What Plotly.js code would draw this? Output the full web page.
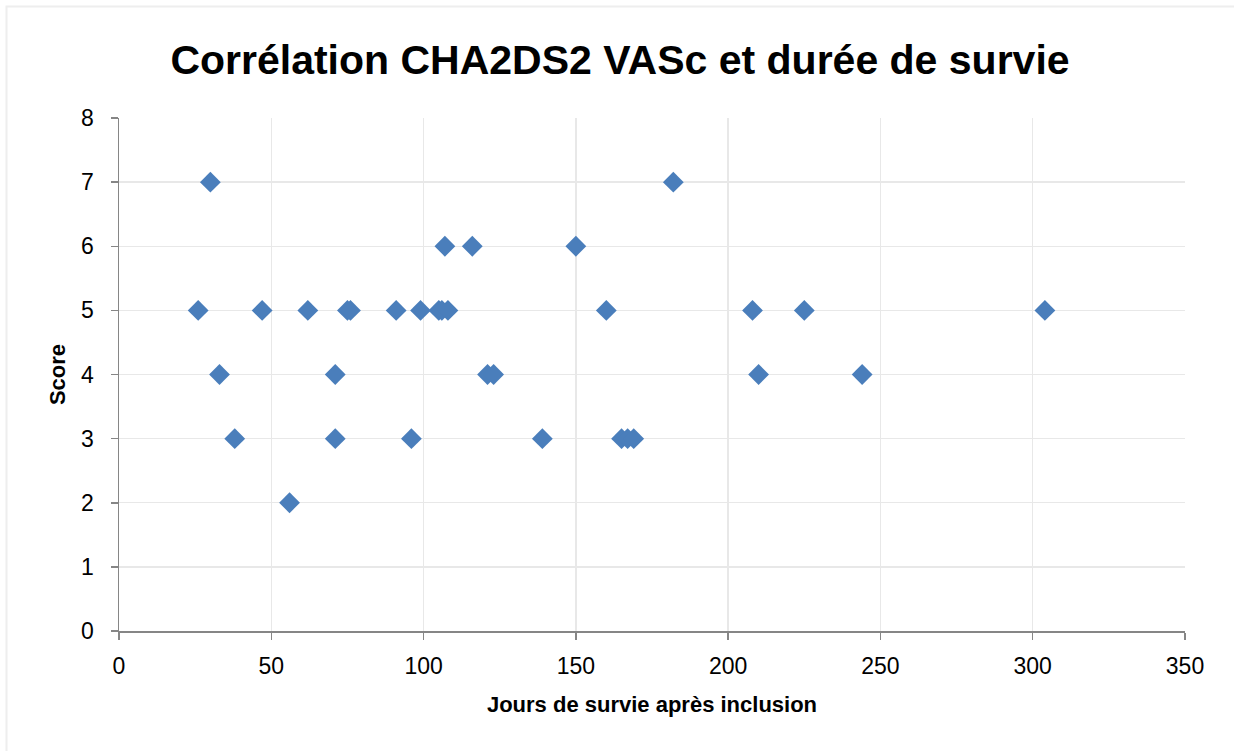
<!DOCTYPE html>
<html>
<head>
<meta charset="utf-8">
<script src="https://cdn.plot.ly/plotly-3.0.1.min.js"></script>
<style>
html,body{margin:0;padding:0;background:#fff;}
#chart{width:1234px;height:751px;}
</style>
</head>
<body>
<div id="chart"></div>
<script>
// Days of survival after inclusion (x) and CHA2DS2-VASc score (y)
const jours = [26, 30, 33, 38, 47, 56, 62, 71, 71, 75, 76, 91, 96, 99, 105, 106, 108, 107, 116, 121, 123, 139, 150, 160, 165, 167, 169, 182, 208, 210, 225, 244, 304];
const score = [5, 7, 4, 3, 5, 2, 5, 4, 3, 5, 5, 5, 3, 5, 5, 5, 5, 6, 6, 4, 4, 3, 6, 5, 3, 3, 3, 7, 5, 4, 5, 4, 5];
const xTicks = [0, 50, 100, 150, 200, 250, 300, 350];
const yTicks = [0, 1, 2, 3, 4, 5, 6, 7, 8];

const W = 1234, H = 751, ml = 119, mr = 49, mt = 118, mb = 120;
const pw = W - ml - mr, ph = H - mt - mb;
const px = v => (v - ml) / pw;
const py = v => (H - mb - v) / ph;

const trace = {
  type: 'scatter',
  mode: 'markers',
  x: jours,
  y: score,
  marker: {symbol: 'diamond', size: 16, color: '#4a7ebb', line: {width: 0}},
  hoverinfo: 'x+y'
};

const boldFont = '"Liberation Sans Narrow", "Liberation Sans", Arial, sans-serif';

const layout = {
  width: W, height: H,
  margin: {l: ml, r: mr, t: mt, b: mb},
  paper_bgcolor: '#fff', plot_bgcolor: '#fff',
  showlegend: false,
  title: {
    text: 'Corrélation CHA2DS2 VASc et durée de survie',
    font: {family: boldFont, size: 41, color: '#000', weight: 'bold'},
    x: 620 / W, xanchor: 'center', xref: 'container',
    y: 1 - 60 / H, yanchor: 'middle', yref: 'container'
  },
  xaxis: {
    range: [0, 350], tickvals: xTicks, ticktext: xTicks.map(String),
    showgrid: true, gridcolor: '#e8e8e8', gridwidth: 1.3,
    showline: true, linecolor: '#868686', linewidth: 1.5,
    ticks: 'outside', ticklen: 7, tickcolor: '#868686', tickwidth: 1.5,
    zeroline: false, ticklabelstandoff: 7,
    tickfont: {family: '"Liberation Sans", Arial, sans-serif', size: 23, color: '#000'},
    title: {text: 'Jours de survie après inclusion', standoff: 18,
      font: {family: boldFont, size: 22, color: '#000', weight: 'bold'}}
  },
  yaxis: {
    range: [0, 8], tickvals: yTicks, ticktext: yTicks.map(String),
    showgrid: true, gridcolor: '#e8e8e8', gridwidth: 1.3,
    showline: true, linecolor: '#868686', linewidth: 1.5,
    ticks: 'outside', ticklen: 7, tickcolor: '#868686', tickwidth: 1.5,
    zeroline: false, ticklabelstandoff: 12,
    tickfont: {family: '"Liberation Sans", Arial, sans-serif', size: 23, color: '#000'},
    title: {text: 'Score', standoff: 9,
      font: {family: boldFont, size: 22, color: '#000', weight: 'bold'}}
  },
  shapes: [{
    type: 'rect', xref: 'paper', yref: 'paper',
    x0: px(6.5), x1: px(1300), y0: py(800), y1: py(6.5),
    line: {color: '#eeeeee', width: 2}, fillcolor: 'rgba(0,0,0,0)', layer: 'below'
  }]
};

Plotly.newPlot('chart', [trace], layout, {displayModeBar: false, staticPlot: true});
</script>
</body>
</html>
